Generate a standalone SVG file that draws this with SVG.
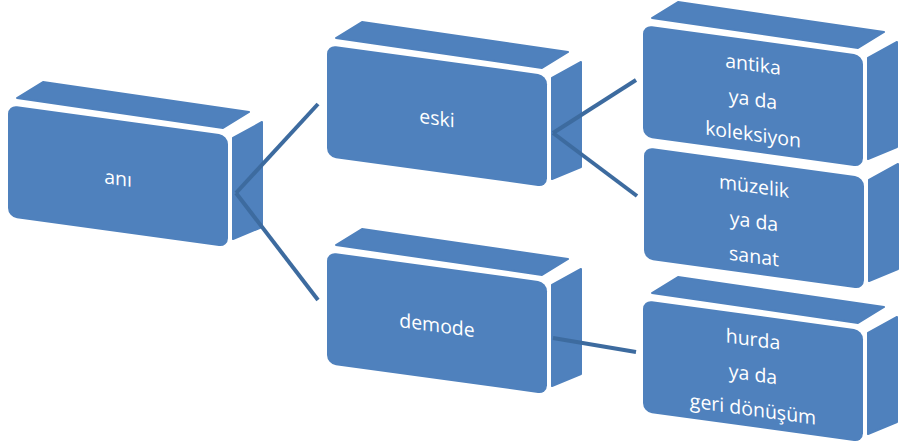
<svg xmlns="http://www.w3.org/2000/svg" xmlns:xlink="http://www.w3.org/1999/xlink" width="900" height="445" viewBox="0 0 900 445">
<style>
.front { fill:#4F81BD; }
.top, .side { fill:#4F81BD; stroke:#4F81BD; stroke-width:2; stroke-linejoin:round; }
.lbl { font-family:"Open Sans","Liberation Sans",sans-serif; font-size:19.5px; fill:#FFFFFF; text-anchor:middle; }
.conn { stroke:#3D6B9F; stroke-width:4; fill:none; stroke-linecap:butt; }
</style>
<defs>
  <polygon id="topface" class="top" points="9,-7 35,-23 241,7 215,23"/>
  <polygon id="sideface" class="side" points="225,33 254,17 254,122 225,134"/>
  <rect id="frontface" class="front" x="0" y="0" width="220" height="112" rx="9" ry="9" transform="skewY(7.8)"/>
</defs>
<rect width="900" height="445" fill="#FFFFFF"/>

<g id="node-ani" transform="translate(8,105)">
  <use href="#topface"/><use href="#sideface"/><use href="#frontface"/>
  <g transform="skewY(7.8)"><text class="lbl" x="110" y="65">anı</text></g>
</g>

<g id="node-eski" transform="translate(327,45)">
  <use href="#topface"/><use href="#sideface"/><use href="#frontface"/>
  <g transform="skewY(7.8)"><text class="lbl" x="110" y="65">eski</text></g>
</g>

<g id="node-demode" transform="translate(327,252)">
  <use href="#topface"/><use href="#sideface"/><use href="#frontface"/>
  <g transform="skewY(7.8)"><text class="lbl" x="110" y="65">demode</text></g>
</g>

<g id="node-hurda" transform="translate(643,300)">
  <use href="#topface"/><use href="#sideface"/><use href="#frontface"/>
  <g transform="skewY(7.8)">
    <text class="lbl" x="110" y="31">hurda</text>
    <text class="lbl" x="110" y="66">ya da</text>
    <text class="lbl" x="110" y="101">geri dönüşüm</text>
  </g>
</g>

<g id="node-muzelik" transform="translate(644,147)">
  <use href="#sideface"/><use href="#frontface"/>
  <g transform="skewY(7.8)">
    <text class="lbl" x="110" y="31">müzelik</text>
    <text class="lbl" x="110" y="66">ya da</text>
    <text class="lbl" x="110" y="101">sanat</text>
  </g>
</g>

<g id="node-antika" transform="translate(643,25)">
  <use href="#topface"/><use href="#sideface"/><use href="#frontface"/>
  <g transform="skewY(7.8)">
    <text class="lbl" x="110" y="31">antika</text>
    <text class="lbl" x="110" y="66">ya da</text>
    <text class="lbl" x="110" y="101">koleksiyon</text>
  </g>
</g>

<g id="connectors">
  <line class="conn" x1="236" y1="193" x2="318" y2="104"/>
  <line class="conn" x1="236" y1="193" x2="318" y2="300"/>
  <line class="conn" x1="553" y1="133" x2="636" y2="80"/>
  <line class="conn" x1="553" y1="133" x2="637" y2="196"/>
  <line class="conn" x1="553" y1="338" x2="636" y2="352"/>
</g>
</svg>
